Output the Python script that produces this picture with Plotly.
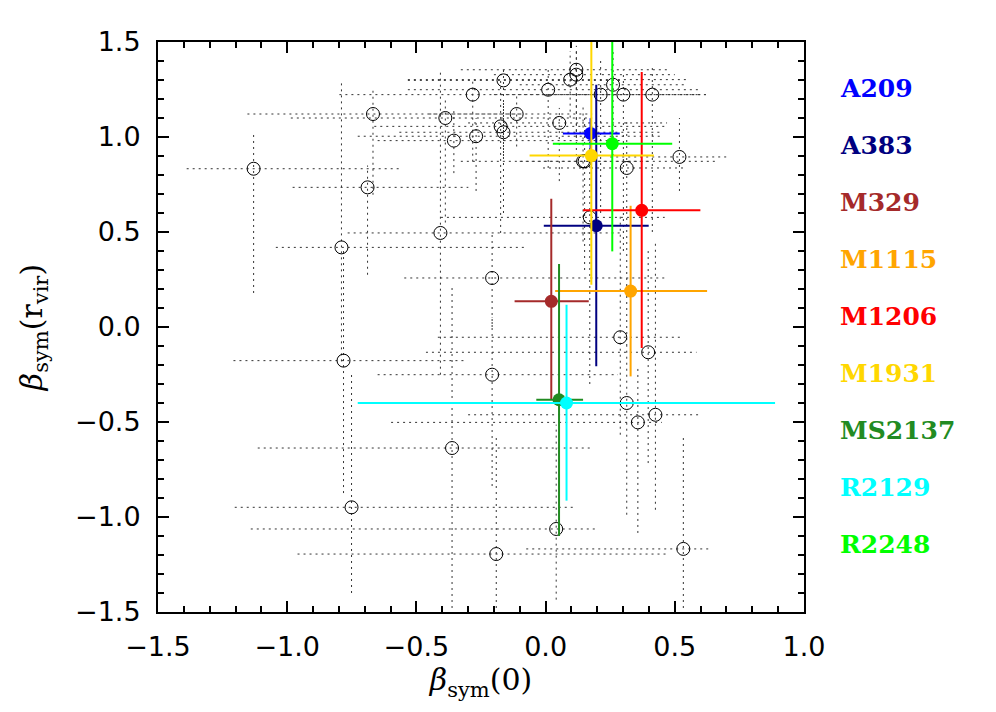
import plotly.graph_objects as go

# ---------------- data ----------------
# comparison sample (open circles, dotted error bars)
bg_x = [-1.130, -0.668, -0.689, -0.790, -0.407, -0.388, -0.355, -0.282, -0.269, -0.163,
        -0.174, -0.163, -0.112, 0.010, 0.053, 0.095, 0.119, 0.119, 0.213, 0.261,
        0.301, 0.413, 0.145, 0.151, 0.314, 0.518, 0.171, -0.207, 0.289, 0.397,
        -0.782, -0.207, 0.314, 0.425, 0.357, -0.362, -0.751, 0.041, -0.191, 0.533]
bg_y = [0.833, 1.121, 0.735, 0.419, 0.495, 1.100, 0.981, 1.223, 1.004, 1.298,
        1.056, 1.025, 1.121, 1.249, 1.074, 1.302, 1.328, 1.354, 1.223, 1.275,
        1.223, 1.223, 0.872, 0.872, 0.837, 0.895, 0.577, 0.258, -0.054, -0.133,
        -0.177, -0.251, -0.400, -0.462, -0.502, -0.637, -0.949, -1.063, -1.195, -1.168]
bg_xerr_lo = [0.259, 0.486, 0.290, 0.254, 0.359, 0.598, 0.295, 0.516, 0.458, 0.370,
              0.489, 0.403, 0.338, 0.543, 0.353, 0.628, 0.319, 0.447, 0.413, 0.361,
              0.301, 0.263, 0.473, 0.251, 0.324, 0.268, 0.576, 0.340, 0.706, 0.860,
              0.426, 0.443, 0.514, 0.725, 0.955, 0.752, 0.452, 1.182, 0.769, 0.608]
bg_xerr_hi = [0.570, 0.568, 0.390, 0.721, 0.694, 0.568, 0.655, 0.482, 0.719, 0.463,
              0.644, 0.613, 0.292, 0.593, 0.417, 0.450, 0.381, 0.355, 0.409, 0.289,
              0.299, 0.207, 0.510, 0.249, 0.231, 0.182, 0.290, 0.681, 0.243, 0.187,
              0.468, 0.487, 0.236, 0.175, 0.093, 0.539, 0.870, 0.162, 0.665, 0.103]
bg_yerr_lo = [0.654, 0.425, 0.460, 0.600, 0.746, 0.550, 0.171, 0.353, 0.288, 0.398,
              0.561, 0.425, 0.171, 0.412, 0.306, 0.200, 0.428, 0.354, 0.623, 0.375,
              0.823, 0.723, 0.422, 0.572, 0.937, 0.179, 0.877, 0.258, 0.513, 0.583,
              0.697, 0.586, 0.588, 0.500, 0.582, 0.842, 0.451, 0.372, 0.284, 0.311]
bg_yerr_hi = [0.188, 0.128, 0.115, 0.880, 0.851, 0.100, 0.172, 0.077, 0.096, 0.056,
              0.244, 0.175, 0.102, 0.114, 0.079, 0.150, 0.122, 0.126, 0.177, 0.175,
              0.127, 0.140, 0.298, 0.228, 0.263, 0.205, 0.423, 0.228, 0.645, 0.533,
              0.597, 0.301, 0.300, 0.912, 0.302, 0.860, 0.707, 0.549, 0.628, 0.601]

# CLASH clusters (filled, coloured)
clusters = ["A209", "A383", "M329", "M1115", "M1206", "M1931", "MS2137", "R2129", "R2248"]
cl_colors = ["#0000ff", "#000080", "#a52a2a", "#ffa500", "#ff0000", "#ffd700",
             "#228b22", "#00ffff", "#00ff00"]
cl_x = [0.174, 0.196, 0.022, 0.329, 0.372, 0.177, 0.052, 0.081, 0.258]
cl_y = [1.019, 0.533, 0.135, 0.189, 0.614, 0.902, -0.383, -0.400, 0.965]
cl_xerr_lo = [0.107, 0.203, 0.142, 0.292, 0.227, 0.239, 0.088, 0.808, 0.230]
cl_xerr_hi = [0.113, 0.203, 0.145, 0.296, 0.227, 0.242, 0.093, 0.807, 0.232]
cl_yerr_lo = [0.080, 0.740, 0.518, 0.449, 0.725, 0.679, 0.717, 0.514, 0.567]
cl_yerr_hi = [0.080, 0.742, 0.540, 0.449, 0.728, 0.700, 0.715, 0.517, 0.600]

x_ticks = [-1.5, -1.0, -0.5, 0.0, 0.5, 1.0]
x_ticktext = ["\u22121.5", "\u22121.0", "\u22120.5", "0.0", "0.5", "1.0"]
y_ticks = [-1.5, -1.0, -0.5, 0.0, 0.5, 1.0, 1.5]
y_ticktext = ["\u22121.5", "\u22121.0", "\u22120.5", "0.0", "0.5", "1.0", "1.5"]

# ---------------- figure ----------------
fig = go.Figure()

# dotted error bars of the comparison sample
seg_x, seg_y = [], []
for x, y, xl, xh, yl, yh in zip(bg_x, bg_y, bg_xerr_lo, bg_xerr_hi, bg_yerr_lo, bg_yerr_hi):
    seg_x += [x - xl, x + xh, None, x, x, None]
    seg_y += [y, y, None, y - yl, y + yh, None]
fig.add_trace(go.Scatter(x=seg_x, y=seg_y, mode="lines",
                         line=dict(color="#333333", width=1, dash="2px,4px"),
                         hoverinfo="skip", showlegend=False))
fig.add_trace(go.Scatter(x=bg_x, y=bg_y, mode="markers",
                         marker=dict(symbol="circle-open", size=13,
                                     color="black", line=dict(width=1, color="black")),
                         showlegend=False))

for name, c, x, y, xl, xh, yl, yh in zip(clusters, cl_colors, cl_x, cl_y,
                                           cl_xerr_lo, cl_xerr_hi, cl_yerr_lo, cl_yerr_hi):
    fig.add_trace(go.Scatter(
        x=[x], y=[y], mode="markers", name=name,
        marker=dict(symbol="circle", size=13, color=c),
        error_x=dict(type="data", symmetric=False, array=[xh], arrayminus=[xl],
                     color=c, thickness=2, width=0),
        error_y=dict(type="data", symmetric=False, array=[yh], arrayminus=[yl],
                     color=c, thickness=2, width=0),
        showlegend=False))

# cluster name labels on the right
for i, (name, c) in enumerate(zip(clusters, cl_colors)):
    fig.add_annotation(x=1.053, y=0.919 - i * 0.1, xref="paper", yref="paper",
                       text="<b>" + name + "</b>", showarrow=False,
                       xanchor="left", yanchor="middle",
                       font=dict(family="DejaVu Serif", size=25, color=c))

axis_common = dict(showline=True, linecolor="black", linewidth=2, mirror="ticks",
                   ticks="inside", ticklen=11, tickwidth=1.5, tickcolor="black",
                   showgrid=False, zeroline=False, automargin=False,
                   tickfont=dict(family="DejaVu Sans", size=27, color="black"),
                   minor=dict(dtick=0.1, ticks="inside", ticklen=6, tickwidth=1.5,
                              tickcolor="black", showgrid=False))

fig.update_xaxes(range=[-1.5, 1.0], tickvals=x_ticks, ticktext=x_ticktext,
                 ticklabelstandoff=10,
                 title=dict(text="<i>\u03b2</i><sub>sym</sub>(0)", standoff=4,
                            font=dict(family="DejaVu Serif", size=30, color="black")),
                 **axis_common)
fig.update_yaxes(range=[-1.5, 1.5], tickvals=y_ticks, ticktext=y_ticktext,
                 ticklabelstandoff=10,
                 title=dict(text="<i>\u03b2</i><sub>sym</sub>(r<sub>vir</sub>)", standoff=24,
                            font=dict(family="DejaVu Serif", size=30, color="black")),
                 **axis_common)

fig.update_layout(width=996, height=712, plot_bgcolor="white", paper_bgcolor="white",
                  margin=dict(l=150, r=200, t=34, b=108), showlegend=False)

fig.write_html("out.html")
